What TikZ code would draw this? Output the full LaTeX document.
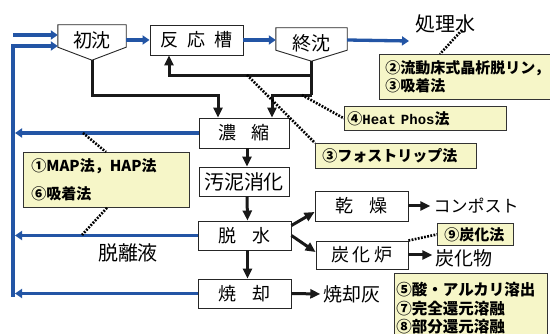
\documentclass[tikz,border=0pt]{standalone}
\usepackage{fontspec}
\setmainfont{Noto Sans CJK JP}
\newfontfamily\monob{Liberation Mono}
\usetikzlibrary{arrows.meta}
\definecolor{fblue}{RGB}{35,85,165}
\definecolor{notey}{RGB}{246,246,200}
\begin{document}
\begin{tikzpicture}[x=1pt,y=-1pt,line join=miter,
  proc/.style={draw=black!85, line width=0.9pt, fill=white, inner sep=0pt, font=\fontsize{18}{20}\selectfont},
  note/.style={draw=black!80, line width=0.8pt, fill=notey, anchor=north west, inner ysep=0pt, align=left, font=\fontsize{15}{18}\selectfont\bfseries},
  blk/.style={draw=black!90, line width=3pt, -{Triangle[length=10pt,width=9pt]}},
  blkline/.style={draw=black!90, line width=3pt},
  bl/.style={draw=fblue, line width=3.3pt, -{Triangle[length=7pt,width=9pt]}},
  dotl/.style={draw=black, line width=2.6pt, dash pattern=on 1.8pt off 1.4pt},
  lbl/.style={inner sep=3pt}
]
\fill[white] (0,0) rectangle (550,334);
\useasboundingbox (0,0) rectangle (550,334);

% process nodes
\node[minimum width=68pt, minimum height=30pt, inner sep=0pt, font=\fontsize{19}{21}\selectfont] (shochin) at (92,40) {初沈};
\draw[draw=black!85, line width=0.9pt] (shochin.north west) -- (shochin.north east) -- ([yshift=8pt]shochin.south east) -- ([yshift=-5pt]shochin.south) -- ([yshift=8pt]shochin.south west) -- cycle;
\coordinate (shochinB) at ([yshift=-5pt]shochin.south);

\node[proc, minimum width=93pt, minimum height=30pt] (hannou) at (196.5,40) {反\hspace{9pt}応\hspace{9pt}槽};

\node[minimum width=71pt, minimum height=30pt, inner sep=0pt, font=\fontsize{19}{21}\selectfont] (shuchin) at (311.5,43) {終沈};
\draw[draw=black!85, line width=0.9pt] (shuchin.north west) -- (shuchin.north east) -- ([yshift=8pt]shuchin.south east) -- ([yshift=-3pt]shuchin.south) -- ([yshift=8pt]shuchin.south west) -- cycle;
\coordinate (shuchinB) at ([yshift=-3pt]shuchin.south);

\node[proc, minimum width=90pt, minimum height=30pt] (noshuku) at (244,133) {濃\hspace{16pt}縮};
\node[proc, minimum width=90pt, minimum height=29pt, font=\fontsize{20}{22}\selectfont] (odei) at (244,181.5) {汚泥消化};
\node[proc, minimum width=93pt, minimum height=29pt] (dassui) at (244.5,235.5) {脱\hspace{17pt}水};
\node[proc, minimum width=93pt, minimum height=29pt] (shoukyaku) at (244.5,293.5) {焼\hspace{16pt}却};
\node[proc, minimum width=93pt, minimum height=30pt] (kansou) at (361.5,206) {乾\hspace{17pt}燥};
\node[proc, minimum width=92pt, minimum height=28pt] (tankaro) at (362,255) {炭\hspace{4pt}化\hspace{4pt}炉};

% text labels
\node[lbl, font=\fontsize{20}{22}\selectfont] (shorisui) at (445,24) {処理水};
\node[lbl, font=\fontsize{17}{19}\selectfont] (compost) at (476,206) {コンポスト};
\node[lbl, font=\fontsize{19}{21}\selectfont] (tankabutsu) at (464,258) {炭化物};
\node[lbl, font=\fontsize{19}{21}\selectfont] (shoukyakubai) at (352,294) {焼却灰};
\node[lbl, font=\fontsize{20}{22}\selectfont] (datsurieki) at (128,253) {脱離液};

% blue water flow
\coordinate (in1) at (13,35);
\coordinate (Vb) at (13,297);
\coordinate (Lx) at (15,0);
\draw[bl] (in1) -- ([yshift=5pt]shochin.west);
\draw[bl] (Vb) |- ([yshift=-6pt]shochin.west);
\draw[bl] (shochin.east |- hannou.west) -- (hannou.west);
\draw[bl] (hannou.east) -- (hannou.east -| shuchin.west);
\coordinate (outEnd) at (409,41);
\draw[bl] (hannou.east -| shuchin.east) -- (outEnd);
\draw[bl] (noshuku.west) -- (noshuku.west -| Lx);
\draw[bl] (dassui.west) -- (dassui.west -| Lx);
\draw[bl] (shoukyaku.west) -- (shoukyaku.west -| Lx);

% black sludge flow
\coordinate (j1) at ([yshift=-14pt]shuchinB);
\coordinate (j2) at ([yshift=-34pt]shuchinB);
\coordinate (k1) at ([xshift=-26pt]noshuku.north |- j2);
\draw[blk] (shuchinB) -- (j1) -| ([xshift=-27.5pt]hannou.south);
\draw[blkline] (j1) -- (j2);
\draw[blk] (j2) -| ([xshift=28pt]noshuku.north);
\draw[blk] (shochinB) |- (k1) -- ([xshift=-26pt]noshuku.north);
\draw[blk] ([xshift=3pt]noshuku.south) -- ([xshift=3pt]odei.north);
\draw[blk] ([xshift=3pt]odei.south) -- ([xshift=3pt]dassui.north);
\draw[blk] ([xshift=3pt]dassui.south) -- ([xshift=3pt]shoukyaku.north);
\draw[blk] ([yshift=10pt]dassui.east) -- ([yshift=-6pt]kansou.west);
\draw[blk] ([yshift=0pt]dassui.east) -- ([yshift=3pt]tankaro.west);
\draw[blk] (kansou.east) -- (compost.west);
\draw[blk] (tankaro.east) -- (tankaro.east -| tankabutsu.west);
\draw[blk] (shoukyaku.east) -- (shoukyakubai.west);

% annotation notes
\node[note, inner xsep=6pt, minimum height=45pt, text width=163pt] (n2) at (379,54) {②流動床式晶析脱リン，\\③吸着法};
\node[note, inner xsep=3pt, minimum height=24pt, text width=156pt] (n4) at (344,106) {④{\monob\fontsize{14}{16}\selectfont Heat Phos}法};
\node[note, inner xsep=7pt, minimum height=25pt, text width=147pt] (n3) at (315,143) {③フォストリップ法};
\node[note, inner xsep=8pt, minimum height=55pt, text width=150pt, font=\fontsize{15}{28}\selectfont\bfseries] (n1) at (23,152) {①MAP法，HAP法\\⑥吸着法};
\node[note, inner xsep=7pt, minimum height=22pt, text width=62pt] (n9) at (437,223) {⑨炭化法};
\node[note, inner xsep=2pt, minimum height=70pt, text width=149pt, font=\fontsize{15.5}{18.5}\selectfont\bfseries] (n5) at (394,273) {⑤酸・アルカリ溶出\\⑦完全還元溶融\\⑧部分還元溶融};

% dotted pointers
\coordinate (d1) at (247,75);
\coordinate (d2) at (302,95);
\coordinate (d3) at (83,133);
\coordinate (d4) at (82,235);
\coordinate (d5) at (462,30);
\draw[dotl] (d1) -- (n3.north west);
\draw[dotl] (d2) -- (n4.west);
\draw[dotl] (d3) -- ([xshift=83pt]n1.north west);
\draw[dotl] ([xshift=84pt]n1.south west) -- (d4);
\draw[dotl] (tankaro.north east) -- (n9.west);
\draw[dotl] (d5) -- ([xshift=61pt]n2.north west);
\end{tikzpicture}
\end{document}
